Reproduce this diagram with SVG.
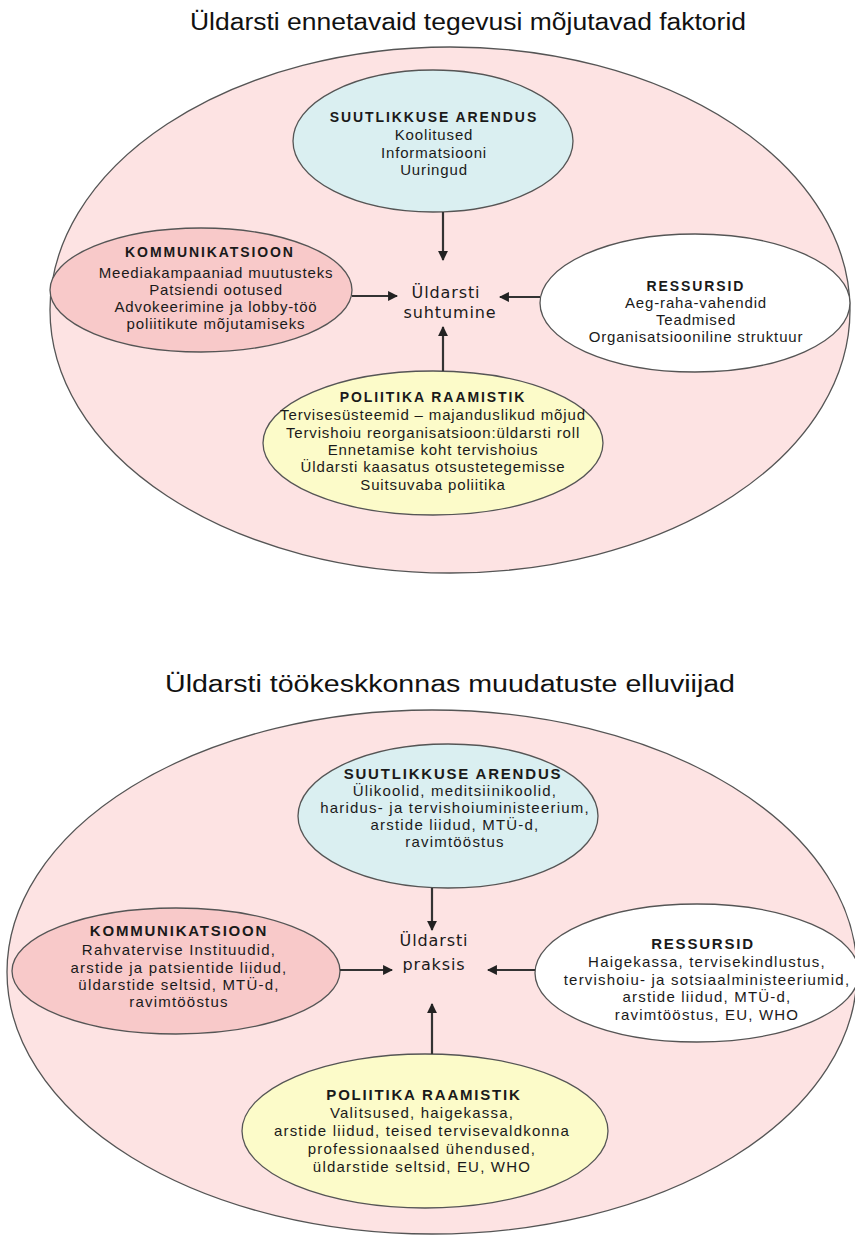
<svg xmlns="http://www.w3.org/2000/svg" width="855" height="1237" viewBox="0 0 855 1237">
<style>
.bg{fill:#ffffff}
.outer{fill:#fde3e3;stroke:#555;stroke-width:1.3}
.blue{fill:#daeff1;stroke:#555;stroke-width:1.3}
.pink{fill:#f8c9c9;stroke:#555;stroke-width:1.3}
.white{fill:#ffffff;stroke:#555;stroke-width:1.3}
.yellow{fill:#fcfbc9;stroke:#555;stroke-width:1.3}
.title{font-family:"Liberation Sans Narrow","Liberation Sans",Arial,sans-serif;font-size:23px;fill:#111;text-anchor:middle}
.h{font-family:"Liberation Sans",Arial,sans-serif;font-size:14px;font-weight:bold;fill:#1a1a1a;text-anchor:middle;letter-spacing:1.9px}
.h2{font-family:"Liberation Sans",Arial,sans-serif;font-size:15px;font-weight:bold;fill:#1a1a1a;text-anchor:middle;letter-spacing:1.8px}
.t{font-family:"Liberation Sans",Arial,sans-serif;font-size:15px;fill:#1a1a1a;text-anchor:middle;letter-spacing:0.85px}
.t2{font-family:"Liberation Sans",Arial,sans-serif;font-size:15px;fill:#1a1a1a;text-anchor:middle;letter-spacing:1.2px}
.c{font-family:"DejaVu Sans",sans-serif;font-size:16px;fill:#1a1a1a;text-anchor:middle;letter-spacing:0.9px}
.ar{stroke:#333;stroke-width:2.2;fill:none;marker-end:url(#ah)}
</style>
<defs>
<marker id="ah" viewBox="0 0 10 10" refX="9" refY="5" markerWidth="4.5" markerHeight="4.5" orient="auto" markerUnits="strokeWidth">
<path d="M0,0 L10,5 L0,10 z" fill="#222"/>
</marker>
</defs>
<rect class="bg" x="0" y="0" width="855" height="1237"/>

<!-- Diagram 1 -->
<text class="title" x="468" y="30" textLength="556" lengthAdjust="spacingAndGlyphs">Üldarsti ennetavaid tegevusi mõjutavad faktorid</text>
<g id="outer1"><ellipse class="outer" cx="450" cy="310" rx="400" ry="263"/></g>
<g id="suutlikkus1">
<ellipse class="blue" cx="433" cy="141" rx="140" ry="71"/>
<text class="h" x="434" y="122">SUUTLIKKUSE ARENDUS</text>
<text class="t" x="434" y="140">Koolitused</text>
<text class="t" x="434" y="158">Informatsiooni</text>
<text class="t" x="434" y="175">Uuringud</text>
</g>
<g id="kommunikatsioon1">
<ellipse class="pink" cx="201" cy="290" rx="151" ry="62"/>
<text class="h" x="210" y="257">KOMMUNIKATSIOON</text>
<text class="t" x="216" y="278">Meediakampaaniad muutusteks</text>
<text class="t" x="216" y="295">Patsiendi ootused</text>
<text class="t" x="216" y="312">Advokeerimine ja lobby-töö</text>
<text class="t" x="216" y="329">poliitikute mõjutamiseks</text>
</g>
<g id="ressursid1">
<ellipse class="white" cx="695" cy="303" rx="155" ry="69"/>
<text class="h" x="696" y="291">RESSURSID</text>
<text class="t" x="696" y="308">Aeg-raha-vahendid</text>
<text class="t" x="696" y="325">Teadmised</text>
<text class="t" x="696" y="342">Organisatsiooniline struktuur</text>
</g>
<g id="poliitika1">
<ellipse class="yellow" cx="433" cy="443" rx="170" ry="72"/>
<text class="h" x="433" y="402">POLIITIKA RAAMISTIK</text>
<text class="t" x="433" y="420">Tervisesüsteemid – majanduslikud mõjud</text>
<text class="t" x="433" y="438">Tervishoiu reorganisatsioon:üldarsti roll</text>
<text class="t" x="433" y="455">Ennetamise koht tervishoius</text>
<text class="t" x="433" y="472">Üldarsti kaasatus otsustetegemisse</text>
<text class="t" x="433" y="490">Suitsuvaba poliitika</text>
</g>
<g id="keskus1">
<text class="c" x="446" y="298">Üldarsti</text>
<text class="c" x="450" y="318">suhtumine</text>
</g>
<g id="connectors1">
<line class="ar" x1="443" y1="212" x2="443" y2="260"/>
<line class="ar" x1="352" y1="296" x2="397" y2="296"/>
<line class="ar" x1="540" y1="297" x2="500" y2="297"/>
<line class="ar" x1="443" y1="371" x2="443" y2="327"/>
</g>

<!-- Diagram 2 -->
<text class="title" x="450" y="692" textLength="570" lengthAdjust="spacingAndGlyphs">Üldarsti töökeskkonnas muudatuste elluviijad</text>
<g id="outer2"><ellipse class="outer" cx="432" cy="972" rx="425" ry="262"/></g>
<g id="suutlikkus2">
<ellipse class="blue" cx="448" cy="816" rx="150" ry="72"/>
<text class="h2" x="453" y="779">SUUTLIKKUSE ARENDUS</text>
<text class="t2" x="455" y="796">Ülikoolid, meditsiinikoolid,</text>
<text class="t2" x="455" y="813">haridus- ja tervishoiuministeerium,</text>
<text class="t2" x="455" y="830">arstide liidud, MTÜ-d,</text>
<text class="t2" x="455" y="847">ravimtööstus</text>
</g>
<g id="kommunikatsioon2">
<ellipse class="pink" cx="176" cy="971" rx="164" ry="63"/>
<text class="h2" x="179" y="936">KOMMUNIKATSIOON</text>
<text class="t2" x="179" y="955">Rahvatervise Instituudid,</text>
<text class="t2" x="179" y="973">arstide ja patsientide liidud,</text>
<text class="t2" x="179" y="990">üldarstide seltsid, MTÜ-d,</text>
<text class="t2" x="179" y="1007">ravimtööstus</text>
</g>
<g id="ressursid2">
<ellipse class="white" cx="697" cy="973" rx="162" ry="69"/>
<text class="h2" x="703" y="949">RESSURSID</text>
<text class="t2" x="707" y="967">Haigekassa, tervisekindlustus,</text>
<text class="t2" x="707" y="985">tervishoiu- ja sotsiaalministeeriumid,</text>
<text class="t2" x="707" y="1002">arstide liidud, MTÜ-d,</text>
<text class="t2" x="707" y="1020">ravimtööstus, EU, WHO</text>
</g>
<g id="poliitika2">
<ellipse class="yellow" cx="425" cy="1131" rx="183" ry="77"/>
<text class="h2" x="424" y="1100">POLIITIKA RAAMISTIK</text>
<text class="t2" x="422" y="1118">Valitsused, haigekassa,</text>
<text class="t2" x="422" y="1136">arstide liidud, teised tervisevaldkonna</text>
<text class="t2" x="422" y="1154">professionaalsed ühendused,</text>
<text class="t2" x="422" y="1172">üldarstide seltsid, EU, WHO</text>
</g>
<g id="keskus2">
<text class="c" x="434" y="946">Üldarsti</text>
<text class="c" x="434" y="970">praksis</text>
</g>
<g id="connectors2">
<line class="ar" x1="432" y1="888" x2="432" y2="930"/>
<line class="ar" x1="340" y1="970" x2="392" y2="970"/>
<line class="ar" x1="535" y1="970" x2="488" y2="970"/>
<line class="ar" x1="432" y1="1054" x2="432" y2="1004"/>
</g>
</svg>
